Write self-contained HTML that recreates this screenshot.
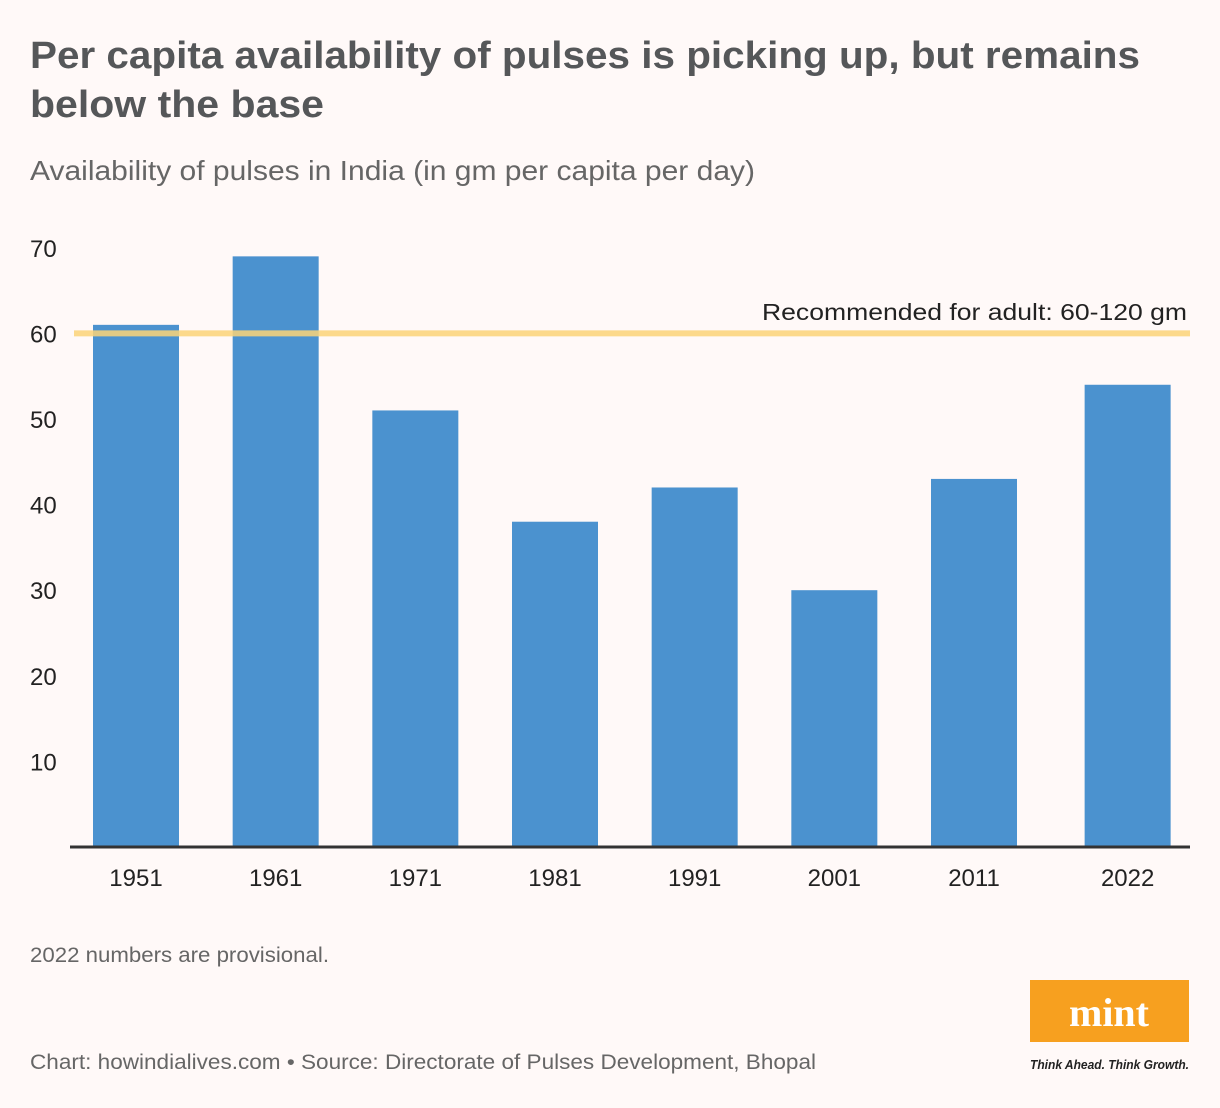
<!DOCTYPE html>
<html><head><meta charset="utf-8"><style>
html,body{margin:0;padding:0;background:#fff9f8;}
svg{display:block;font-family:"Liberation Sans",sans-serif;}
</style></head><body>
<svg id="chart" width="1220" height="1108" viewBox="0 0 1220 1108">
<rect x="0" y="0" width="1220" height="1108" fill="#fff9f8"/>
<text x="30" y="68" font-size="38" font-weight="bold" fill="#555759" textLength="1110" lengthAdjust="spacingAndGlyphs">Per capita availability of pulses is picking up, but remains</text>
<text x="30" y="117" font-size="38" font-weight="bold" fill="#555759" textLength="294" lengthAdjust="spacingAndGlyphs">below the base</text>
<text x="30" y="180" font-size="28" fill="#666" textLength="725" lengthAdjust="spacingAndGlyphs">Availability of pulses in India (in gm per capita per day)</text>
<g id="yticks"></g>
<g id="bars"></g>
<g id="xlabels"></g>
<line x1="70" y1="847" x2="1190" y2="847" stroke="#333" stroke-width="3"/>
<line id="refline" x1="74" x2="1190" stroke="#fcd378" stroke-opacity="0.85" stroke-width="6"/>
<text x="1187" y="320" font-size="23" fill="#222" text-anchor="end" textLength="425" lengthAdjust="spacingAndGlyphs">Recommended for adult: 60-120 gm</text>
<text x="30" y="962" font-size="21" fill="#666" textLength="299" lengthAdjust="spacingAndGlyphs">2022 numbers are provisional.</text>
<text x="30" y="1069" font-size="21" fill="#666" textLength="786" lengthAdjust="spacingAndGlyphs">Chart: howindialives.com • Source: Directorate of Pulses Development, Bhopal</text>
<g>
<rect x="1030" y="980" width="159" height="62" fill="#f7a01f"/>
<text x="1109" y="1026" font-size="40" font-weight="bold" fill="#fff" text-anchor="middle" font-family="Liberation Serif,serif">mint</text>
<text x="1030" y="1069" font-size="13" font-style="italic" font-weight="600" fill="#222" textLength="159" lengthAdjust="spacingAndGlyphs">Think Ahead. Think Growth.</text>
</g>
</svg>
<script>
const years = [1951, 1961, 1971, 1981, 1991, 2001, 2011, 2022];
const values = [61, 69, 51, 38, 42, 30, 43, 54];
const yTicks = [10, 20, 30, 40, 50, 60, 70];
const refValue = 60;

const NS = "http://www.w3.org/2000/svg";
const y = v => 847 - v * 8.56;
const x = yr => 93 + (yr - 1951) * (838 / 60);
const bw = 86;

const yg = document.getElementById('yticks');
yTicks.forEach(t => {
  const el = document.createElementNS(NS, 'text');
  
  
  el.setAttribute('x', 30); el.setAttribute('y', y(t) + 9);
  el.setAttribute('font-size', 24); el.setAttribute('fill', '#222');
  el.textContent = t;
  yg.appendChild(el);
});

const bg = document.getElementById('bars');
const xg = document.getElementById('xlabels');
years.forEach((yr, i) => {
  const r = document.createElementNS(NS, 'rect');
  
  
  r.setAttribute('x', x(yr)); r.setAttribute('width', bw);
  r.setAttribute('y', y(values[i])); r.setAttribute('height', 847 - y(values[i]));
  r.setAttribute('fill', '#4b92cf');
  bg.appendChild(r);
  const t = document.createElementNS(NS, 'text');
  
  
  t.setAttribute('x', x(yr) + bw / 2); t.setAttribute('y', 886);
  t.setAttribute('font-size', 24); t.setAttribute('fill', '#222');
  t.setAttribute('text-anchor', 'middle');
  t.textContent = yr;
  xg.appendChild(t);
});
const rl = document.getElementById('refline');
rl.setAttribute('y1', y(refValue)); rl.setAttribute('y2', y(refValue));
</script>
</body></html>
